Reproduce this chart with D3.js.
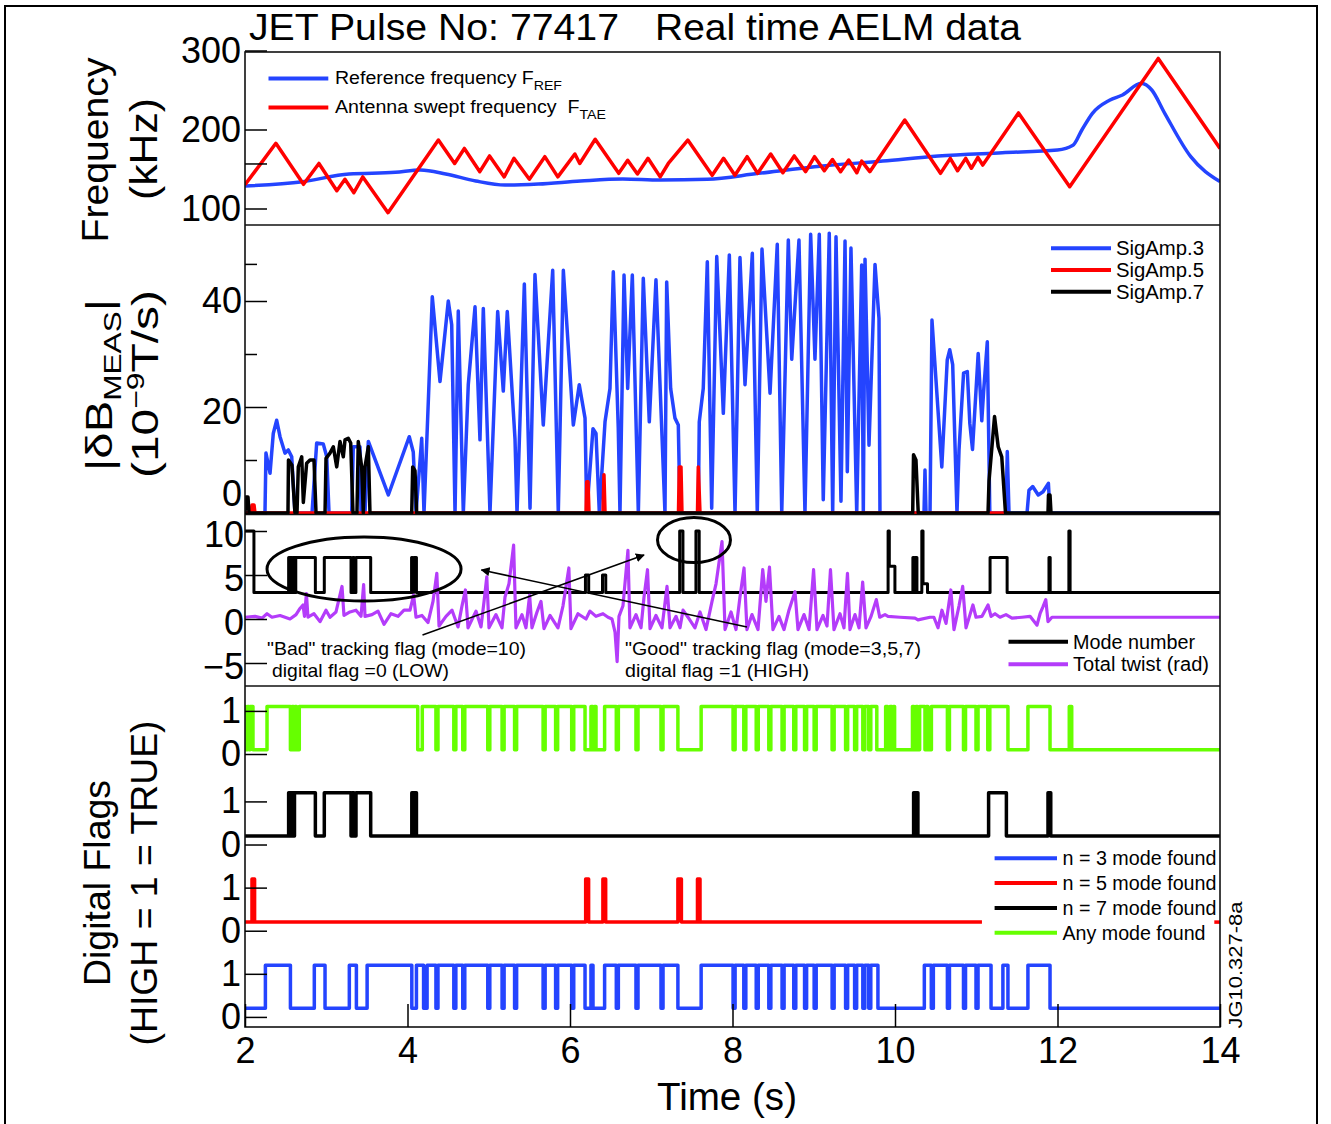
<!DOCTYPE html>
<html><head><meta charset="utf-8">
<script src="https://cdn.jsdelivr.net/npm/d3@7"></script>
<style>
body{margin:0;background:#fff;}
svg text{font-family:"Liberation Sans", Arial, Helvetica, sans-serif; fill:#000;}
</style></head><body>
<svg id="chart" width="1331" height="1124"></svg>
<script>
// ---------------- DATA ----------------
const timeTicks = [2,4,6,8,10,12,14];
const freqTicks = [100,200,300];
const freqMinorTicks = [157];
const ampTicks = [0,20,40];
const ampMinorTicks = [10,30,47];
const modeTicks = [-5,0,5,10];
const flagTickPos = [-0.2,0.8,1.8,2.8,3.8,4.8,5.9,6.9];
const flagTickLabels = ["0","1","0","1","0","1","0","1"];

// Frequency panel [time s, kHz]
const fRef = [[2.0,128.5],[2.71,134],[3.28,143.7],[3.85,145.8],[4.16,148.7],[4.47,143.7],[4.84,134.8],[5.2,129.7],[5.61,131],[6.13,134.8],[6.65,137.3],[7.11,136],[7.69,137],[8.32,144.5],[9.11,153.8],[9.85,160],[10.53,166.5],[11.32,170.6],[12.0,174],[12.19,180],[12.30,199.4],[12.43,220.5],[12.64,237],[12.80,243.7],[13.03,258.5],[13.16,250],[13.32,220.5],[13.64,165.6],[14.0,134]];
const fTAE = [[2.00,130],[2.38,182.5],[2.72,130.6],[2.91,157],[3.13,122.5],[3.23,137],[3.34,120],[3.45,140],[3.76,94.7],[4.38,186.7],[4.58,157],[4.70,176],[4.89,146.6],[5.01,166.5],[5.19,140],[5.31,163.5],[5.50,137],[5.69,165.6],[5.85,140],[6.06,169],[6.12,157],[6.31,187.6],[6.60,144.5],[6.71,161],[6.83,143.7],[6.96,163.5],[7.11,140],[7.21,157],[7.45,186.7],[7.75,142],[7.89,163.5],[8.03,142],[8.18,165.6],[8.31,144.5],[8.47,169],[8.62,145.3],[8.76,166.5],[8.90,146.6],[9.01,165.6],[9.13,147.8],[9.23,162],[9.33,146.6],[9.43,161.4],[9.53,145.3],[9.59,160],[9.69,146.6],[10.12,212],[10.56,144.5],[10.68,163.5],[10.77,147.8],[10.87,163.5],[10.94,150.9],[11.02,164.8],[11.08,155],[11.52,221],[12.15,127.6],[13.24,290],[14.0,176]];

// |dB_MEAS| panel [time s, 1e-9 T/s]
const sigAmp3 = [[2.000,0],[2.246,0],[2.258,11.3],[2.308,7.5],[2.348,15],[2.390,17.5],[2.431,14.4],[2.492,11.3],[2.533,11.9],[2.575,10.6],[2.615,0],[2.825,0],[2.882,13.2],[2.964,13],[3.006,10.6],[3.034,0],[3.313,0],[3.333,12.5],[3.415,12.5],[3.428,0],[3.477,0],[3.518,13.5],[3.764,3.4],[4.022,14.4],[4.071,11.5],[4.105,0],[4.175,14.1],[4.203,0],[4.256,21],[4.305,40.8],[4.400,24.8],[4.502,40],[4.544,35.5],[4.585,0],[4.625,38.1],[4.687,0],[4.748,24.2],[4.831,38.9],[4.892,13.8],[4.933,38.6],[5.015,0],[5.110,38],[5.179,23],[5.228,38],[5.323,14],[5.348,0],[5.438,43.2],[5.508,0.9],[5.569,45],[5.671,16.6],[5.787,45.8],[5.856,0],[5.918,45.8],[6.041,16.6],[6.114,24.2],[6.185,17.9],[6.206,0],[6.283,15.9],[6.320,15],[6.361,0],[6.431,17.2],[6.492,23.5],[6.533,45.5],[6.594,16],[6.615,0],[6.665,44.9],[6.710,23.5],[6.767,44.9],[6.841,0],[6.902,44.3],[6.976,17.2],[7.058,44],[7.169,0],[7.190,43.6],[7.239,23.5],[7.292,17.9],[7.333,16.6],[7.354,0],[7.579,0],[7.591,17.2],[7.640,23.5],[7.690,47.4],[7.744,0.9],[7.806,48.4],[7.887,18.8],[7.961,48.7],[8.031,0],[8.092,48.2],[8.154,24.2],[8.244,49],[8.305,0],[8.363,49.8],[8.462,22.6],[8.551,50.7],[8.606,0],[8.687,51.5],[8.729,29],[8.818,51.5],[8.892,0],[8.962,52.6],[9.015,29],[9.068,52.6],[9.117,2.5],[9.191,52.8],[9.233,0],[9.274,52.1],[9.335,2.2],[9.385,51.3],[9.413,7.8],[9.458,50],[9.529,0],[9.590,46.8],[9.610,0],[9.631,47.9],[9.680,12.8],[9.754,46.9],[9.803,36.7],[9.815,0],[10.357,0],[10.369,8.1],[10.382,0],[10.431,0],[10.455,36.4],[10.576,8.7],[10.643,28.9],[10.674,30.8],[10.710,28],[10.763,0],[10.788,11.9],[10.844,26.4],[10.890,26.7],[10.921,16.9],[10.954,12],[10.985,20],[11.024,30.1],[11.068,17.4],[11.091,23],[11.136,32.3],[11.167,0],[11.366,0],[11.382,11.6],[11.403,0],[11.625,0],[11.649,4.3],[11.695,5],[11.763,3.4],[11.822,4],[11.888,5.6],[11.908,0],[14.0,0]];
const sigAmp5 = [[2.0,0],[2.074,0],[2.086,1.5],[2.111,1.5],[2.123,0],[6.197,0],[6.206,5.9],[6.222,5.9],[6.234,0],[6.406,0],[6.418,7.2],[6.431,0],[7.335,0],[7.345,8.7],[7.366,8.7],[7.378,0],[7.569,0],[7.579,8.7],[7.600,0],[11.4,0]];
const sigAmp7 = [[2.000,0],[2.012,3],[2.037,3],[2.049,0],[2.529,0],[2.535,10],[2.578,9],[2.615,0],[2.640,0],[2.656,8.7],[2.698,10.6],[2.718,2],[2.759,9.4],[2.800,10],[2.849,10],[2.874,0],[2.985,0],[2.997,10.3],[3.046,11.3],[3.087,12.5],[3.129,8.7],[3.169,13.5],[3.210,10.6],[3.231,13.8],[3.271,14.1],[3.301,13.2],[3.329,0],[3.378,0],[3.394,13.5],[3.436,8.7],[3.456,0],[3.477,8.7],[3.518,12.5],[3.538,0],[4.052,0],[4.064,8.7],[4.092,8],[4.113,0],[10.218,0],[10.228,11],[10.258,10],[10.286,0],[11.145,0],[11.157,6],[11.225,18.2],[11.270,12.5],[11.314,10.6],[11.360,0],[11.883,0],[11.889,3.4],[11.908,3.4],[11.920,0],[14.0,0]];

// Mode number (step, value holds until next time)
const modeNumber = [[2.0,10],[2.11,3],[2.537,7],[2.55,3],[2.565,7],[2.58,3],[2.595,7],[2.61,3],[2.625,7],[2.866,3],[2.976,7],[3.305,3],[3.325,7],[3.345,3],[3.365,7],[3.547,3],[4.05,7],[4.062,3],[4.075,7],[4.11,3],[6.19,5],[6.23,3],[6.40,5],[6.44,3],[7.35,10],[7.39,3],[7.55,10],[7.59,3],[9.915,10],[9.93,6],[9.999,3],[10.22,7],[10.24,3],[10.25,7],[10.27,3],[10.33,10],[10.345,4],[10.40,3],[11.17,7],[11.38,3],[11.895,7],[11.91,3],[12.14,10],[12.155,3],[14.0,3]];
// Total twist (rad)
const totalTwist = [[2.000,0.2],[2.123,0.3],[2.209,0.1],[2.271,0.6],[2.332,0.2],[2.431,0.4],[2.554,0.0],[2.628,0.5],[2.677,1.2],[2.714,1.6],[2.732,0.3],[2.756,2.9],[2.775,0.2],[2.849,0.6],[2.923,-0.3],[2.997,1.0],[3.046,0.2],[3.120,0.8],[3.194,3.7],[3.218,0.4],[3.292,0.8],[3.366,1.0],[3.428,0.3],[3.460,3.9],[3.477,0.3],[3.563,0.5],[3.637,0.9],[3.711,-0.6],[3.797,0.6],[3.883,0.3],[3.957,1.0],[4.031,1.0],[4.075,2.7],[4.105,0.2],[4.178,0.4],[4.252,-0.4],[4.314,2.0],[4.361,5.2],[4.388,-0.8],[4.474,0.3],[4.548,1.0],[4.622,-0.9],[4.671,1.5],[4.713,3.3],[4.745,-1.0],[4.843,0.9],[4.905,-0.9],[4.942,2.0],[4.976,4.8],[5.003,-1.0],[5.089,0.5],[5.163,-1.0],[5.200,2.5],[5.249,4.0],[5.306,8.4],[5.335,-1.0],[5.409,0.5],[5.458,-1.0],[5.503,2.7],[5.532,-1.0],[5.594,0.8],[5.643,2.0],[5.680,-1.1],[5.754,0.4],[5.852,-1.0],[5.914,1.5],[5.986,5.8],[6.012,-1.1],[6.098,0.6],[6.197,0.0],[6.246,0.9],[6.320,0.3],[6.406,0.6],[6.468,0.2],[6.517,0.0],[6.554,-1.5],[6.580,-4.85],[6.603,0.3],[6.652,1.5],[6.713,7.8],[6.738,-1.0],[6.812,0.5],[6.874,-1.0],[6.911,2.5],[6.954,5.6],[6.985,-1.1],[7.058,0.4],[7.132,-1.0],[7.194,3.7],[7.231,-1.0],[7.305,0.3],[7.354,-1.0],[7.391,1.0],[7.452,0.2],[7.538,-1.0],[7.600,0.8],[7.674,-1.2],[7.748,2.0],[7.797,4.0],[7.871,8.8],[7.908,-1.2],[7.982,0.8],[8.043,-1.2],[8.092,2.5],[8.142,5.8],[8.178,-1.2],[8.240,0.5],[8.314,-1.2],[8.372,5.6],[8.412,2.0],[8.455,5.9],[8.498,-1.2],[8.572,0.3],[8.634,-1.2],[8.695,1.0],[8.769,3.1],[8.806,-1.2],[8.880,0.5],[8.942,-1.2],[8.998,5.6],[9.040,-1.2],[9.114,0.4],[9.163,-0.8],[9.206,5.6],[9.249,-1.2],[9.323,0.6],[9.372,-1.0],[9.415,5.2],[9.446,-1.2],[9.508,0.5],[9.557,-1.0],[9.602,4.2],[9.643,-1.0],[9.705,0.3],[9.770,2.2],[9.812,0.2],[9.877,0.5],[9.914,0.3],[10.062,0.2],[10.246,0.1],[10.283,-0.1],[10.431,0.2],[10.479,0.2],[10.529,-1.0],[10.578,1.0],[10.628,-0.5],[10.687,3.3],[10.726,-1.2],[10.788,1.5],[10.833,3.7],[10.874,-1.0],[10.923,0.5],[10.959,1.6],[10.997,0.2],[11.071,0.3],[11.145,1.6],[11.182,0.3],[11.231,0.6],[11.292,0.2],[11.366,0.5],[11.440,0.1],[11.563,0.2],[11.662,0.3],[11.748,-0.7],[11.785,0.6],[11.822,1.4],[11.856,2.2],[11.883,-0.3],[11.932,0.2],[14.0,0.2]];

// Digital flags: intervals [start, end] where flag = 1 (HIGH)
const n3High = [[2.251,2.559],[2.853,2.985],[3.284,3.371],[3.503,4.053],[4.110,4.198],[4.241,4.350],[4.375,4.570],[4.595,4.680],[4.705,4.988],[5.013,5.164],[5.189,5.318],[5.343,5.669],[5.694,5.823],[5.848,6.021],[6.046,6.185],[6.258,6.283],[6.426,6.570],[6.595,6.812],[6.837,7.120],[7.145,7.328],[7.614,8.007],[8.032,8.139],[8.164,8.292],[8.317,8.447],[8.472,8.610],[8.635,8.754],[8.779,8.887],[8.912,9.005],[9.030,9.226],[9.251,9.392],[9.417,9.503],[9.528,9.604],[9.629,9.677],[9.702,9.790],[10.361,10.447],[10.472,10.645],[10.670,10.843],[10.868,10.997],[11.022,11.182],[11.328,11.390],[11.636,11.908]];
const n5High = [[2.086,2.118],[6.193,6.229],[6.405,6.439],[7.328,7.371],[7.569,7.600]];
const n5Spans = [[2.0,11.07],[13.93,14.0]];
const n7High = [[2.537,2.548],[2.560,2.572],[2.585,2.597],[2.609,2.866],[2.976,3.305],[3.323,3.342],[3.366,3.547],[4.053,4.065],[4.078,4.110],[10.229,10.246],[10.258,10.282],[11.152,11.371],[11.883,11.917]];
const anyHigh = [[2.000,2.012],[2.031,2.049],[2.062,2.098],[2.271,2.559],[2.578,2.597],[2.615,2.634],[2.668,4.126],[4.182,4.350],[4.375,4.570],[4.595,4.680],[4.705,4.988],[5.013,5.164],[5.189,5.318],[5.343,5.669],[5.694,5.823],[5.848,6.021],[6.046,6.185],[6.258,6.283],[6.302,6.320],[6.426,6.570],[6.595,6.812],[6.837,7.120],[7.145,7.328],[7.614,8.007],[8.032,8.139],[8.164,8.292],[8.317,8.447],[8.472,8.610],[8.635,8.754],[8.779,8.887],[8.912,9.005],[9.030,9.226],[9.251,9.392],[9.417,9.503],[9.528,9.604],[9.629,9.677],[9.702,9.776],[9.885,9.908],[9.938,9.963],[9.982,9.995],[10.215,10.234],[10.258,10.277],[10.303,10.369],[10.387,10.406],[10.448,10.645],[10.670,10.843],[10.868,10.997],[11.022,11.142],[11.167,11.390],[11.636,11.908],[12.145,12.175]];

// ---------------- DRAW ----------------
const svg = d3.select("#chart");
const C = {blue:"#2444ff", red:"#ff0000", black:"#000000", green:"#66ff00", purple:"#b43cfa"};
const L = 245, R = 1220;
const P = {fTop:52, fBot:225, aTop:225, aBot:514.5, mTop:514.5, mBot:686, dTop:686, dBot:1027};

const x = d3.scaleLinear().domain([2,14]).range([L,R]);
const yF = d3.scaleLinear().domain([100,300]).range([208.5,50.5]);
const yA = d3.scaleLinear().domain([0,40]).range([513,301]);
const yM = d3.scaleLinear().domain([0,10]).range([619,531]);
const yD = d3.scaleLinear().domain([0,1]).range([1008.3,965.2]);

svg.append("rect").attr("x",5).attr("y",6).attr("width",1312).attr("height",1140)
  .attr("fill","none").attr("stroke","#000").attr("stroke-width",2);

const defs = svg.append("defs");
function clip(id,y0,y1){defs.append("clipPath").attr("id",id).append("rect").attr("x",L).attr("y",y0).attr("width",R-L).attr("height",y1-y0);}
clip("cF",P.fTop,P.fBot); clip("cA",P.aTop,P.aBot+1); clip("cM",P.mTop,P.mBot); clip("cD",P.dTop,P.dBot);
defs.append("marker").attr("id","arr").attr("viewBox","0 0 10 10").attr("refX",9).attr("refY",5)
  .attr("markerWidth",9).attr("markerHeight",9).attr("markerUnits","userSpaceOnUse").attr("orient","auto")
  .append("path").attr("d","M0,0 L10,5 L0,10 z").attr("fill","#000");

function drawLine(g, data, yS, color, w, curve){
  g.append("path").datum(data).attr("fill","none").attr("stroke",color).attr("stroke-width",w)
   .attr("stroke-linejoin","round").attr("stroke-linecap","butt")
   .attr("d", d3.line().x(d=>x(d[0])).y(d=>yS(d[1])).curve(curve||d3.curveLinear));
}

// Frequency
const gF = svg.append("g").attr("clip-path","url(#cF)");
drawLine(gF, fRef, yF, C.blue, 3.5, d3.curveMonotoneX);
drawLine(gF, fTAE, yF, C.red, 3.5);

// Amplitudes
const gA = svg.append("g").attr("clip-path","url(#cA)");
drawLine(gA, sigAmp3, yA, C.blue, 3.5);
drawLine(gA, sigAmp5, yA, C.red, 3.5);
drawLine(gA, sigAmp7, yA, C.black, 3.5);

// Mode & twist
const gM = svg.append("g").attr("clip-path","url(#cM)");
drawLine(gM, modeNumber, yM, C.black, 3, d3.curveStepAfter);
drawLine(gM, totalTwist, yM, C.purple, 3.2);

// Digital flags
function stepPts(intervals, t0, t1, off){
  const p=[[t0,off]];
  intervals.forEach(([s,e])=>{ if(s>=t0 && e<=t1) p.push([s,off],[s,off+1],[e,off+1],[e,off]); });
  p.push([t1,off]); return p;
}
const gD = svg.append("g").attr("clip-path","url(#cD)");
drawLine(gD, stepPts(anyHigh,2,14,6), yD, C.green, 3.5);
drawLine(gD, stepPts(n7High,2,14,4), yD, C.black, 3.5);
n5Spans.forEach(([a,b])=>drawLine(gD, stepPts(n5High,a,b,2), yD, C.red, 3.5));
drawLine(gD, stepPts(n3High,2,14,0), yD, C.blue, 3.5);

// Frame
const frame = svg.append("g").attr("stroke","#111").attr("stroke-width",1.6).attr("fill","none");
frame.append("rect").attr("x",L).attr("y",P.fTop).attr("width",R-L).attr("height",P.dBot-P.fTop);
[P.fBot,P.aBot,P.dTop].forEach(yy=>frame.append("line").attr("x1",L).attr("x2",R).attr("y1",yy).attr("y2",yy));

// Axes
function styleAxis(g,size){
  g.select(".domain").remove();
  g.selectAll(".tick line").attr("stroke","#000").attr("stroke-width",1.5);
  g.selectAll(".tick text").attr("font-size",size).attr("fill","#000");
}
let g;
g = svg.append("g").attr("transform",`translate(${L},0)`).call(d3.axisLeft(yF).tickValues(freqTicks).tickSizeInner(-22).tickSizeOuter(0).tickPadding(4));
styleAxis(g,36);
g = svg.append("g").attr("transform",`translate(${L},0)`).call(d3.axisLeft(yF).tickValues(freqMinorTicks).tickSizeInner(-22).tickSizeOuter(0).tickFormat(""));
styleAxis(g,36);
g = svg.append("g").attr("transform",`translate(${L},0)`).call(d3.axisLeft(yA).tickValues(ampTicks).tickSizeInner(-22).tickSizeOuter(0).tickPadding(3));
styleAxis(g,36);
g.selectAll(".tick").filter(d=>d===0).select("text").attr("dy","-8px");
g.selectAll(".tick").filter(d=>d===20).select("text").attr("dy","0.45em");
g = svg.append("g").attr("transform",`translate(${L},0)`).call(d3.axisLeft(yA).tickValues(ampMinorTicks).tickSizeInner(-12).tickSizeOuter(0).tickFormat(""));
styleAxis(g,36);
g = svg.append("g").attr("transform",`translate(${L},0)`).call(d3.axisLeft(yM).tickValues(modeTicks).tickSizeInner(-22).tickSizeOuter(0).tickPadding(1));
styleAxis(g,36);
g.selectAll(".tick text").attr("dy","0.42em");
g = svg.append("g").attr("transform",`translate(${L},0)`).call(d3.axisLeft(yD).tickValues(flagTickPos).tickSizeInner(-22).tickSizeOuter(0).tickPadding(4).tickFormat((d,i)=>flagTickLabels[i]));
styleAxis(g,36);
g = svg.append("g").attr("transform",`translate(0,${P.dBot})`).call(d3.axisBottom(x).tickValues(timeTicks).tickSizeInner(-23).tickSizeOuter(0).tickPadding(10));
styleAxis(g,36);

// Titles & labels
function txt(xp,yp,s,size,opts={}){
  const t = svg.append("text").attr("x",xp).attr("y",yp).attr("font-size",size).text(s);
  if(opts.anchor) t.attr("text-anchor",opts.anchor);
  if(opts.len) t.attr("textLength",opts.len).attr("lengthAdjust","spacingAndGlyphs");
  if(opts.rot) t.attr("transform",`rotate(-90,${xp},${yp})`);
  return t;
}
txt(249,40,"JET Pulse No: 77417",36,{len:370});
txt(655,40,"Real time AELM data",36,{len:366});
txt(727,1110,"Time (s)",38,{anchor:"middle",len:140});

txt(108,150,"Frequency",36,{anchor:"middle",len:185,rot:true});
txt(157,149,"(kHz)",38,{anchor:"middle",len:102,rot:true});

let t1 = txt(112,385,"",36,{anchor:"middle",len:172,rot:true});
t1.append("tspan").text("|δB");
t1.append("tspan").attr("font-size",24).attr("dy",9).text("MEAS");
t1.append("tspan").attr("dy",-9).text("|");
let t2 = txt(158,384,"",36,{anchor:"middle",len:188,rot:true});
t2.append("tspan").text("(10");
t2.append("tspan").attr("font-size",24).attr("dy",-14).text("−9");
t2.append("tspan").attr("dy",14).text("T/s)");

txt(110,883,"Digital Flags",36,{anchor:"middle",len:206,rot:true});
txt(157,883,"(HIGH = 1 = TRUE)",36,{anchor:"middle",len:325,rot:true});

txt(1242,965,"JG10.327-8a",18,{anchor:"middle",len:127,rot:true});

// Legends
function legLine(x1,x2,yy,color){svg.append("line").attr("x1",x1).attr("x2",x2).attr("y1",yy).attr("y2",yy).attr("stroke",color).attr("stroke-width",4);}
legLine(268.5,328.3,78.5,C.blue);
legLine(268.5,328.3,107.5,C.red);
let lt = txt(335,84,"",18,{len:227}); lt.append("tspan").text("Reference frequency F"); lt.append("tspan").attr("font-size",13).attr("dy",6).text("REF");
lt = txt(335,113,"",18,{len:271}); lt.attr("style","white-space:pre"); lt.append("tspan").text("Antenna swept frequency  F"); lt.append("tspan").attr("font-size",13).attr("dy",6).text("TAE");

[["SigAmp.3",C.blue],["SigAmp.5",C.red],["SigAmp.7",C.black]].forEach((d,i)=>{
  const yy = 248.3 + i*21.7; legLine(1051,1111,yy,d[1]); txt(1116,yy+7,d[0],20,{len:88});
});
[["Mode number",C.black,122],["Total twist (rad)",C.purple,136]].forEach((d,i)=>{
  const yy = 641.7 + i*22.6; legLine(1008.5,1068,yy,d[1]); txt(1073,yy+7,d[0],20,{len:d[2]});
});
[["n = 3 mode found",C.blue,154],["n = 5 mode found",C.red,154],["n = 7 mode found",C.black,154],["Any mode found",C.green,143]].forEach((d,i)=>{
  const yy = 858.3 + i*24.8; legLine(994.6,1057,yy,d[1]); txt(1062.5,yy+7,d[0],20,{len:d[2]});
});

// Annotations (in data units of the mode panel)
const ann = svg.append("g");
ann.append("ellipse").attr("cx",x(3.465)).attr("cy",yM(5.68)).attr("rx",x(3.465+1.194)-x(3.465)).attr("ry",yM(0)-yM(3.64))
  .attr("fill","none").attr("stroke","#000").attr("stroke-width",3);
ann.append("ellipse").attr("cx",x(7.526)).attr("cy",yM(8.98)).attr("rx",x(7.526+0.449)-x(7.526)).attr("ry",yM(0)-yM(2.56))
  .attr("fill","none").attr("stroke","#000").attr("stroke-width",3);
ann.append("line").attr("x1",x(4.185)).attr("y1",yM(-1.82)).attr("x2",x(6.911)).attr("y2",yM(7.27))
  .attr("stroke","#000").attr("stroke-width",1.5).attr("marker-end","url(#arr)");
ann.append("line").attr("x1",x(8.178)).attr("y1",yM(-0.91)).attr("x2",x(4.910)).attr("y2",yM(5.57))
  .attr("stroke","#000").attr("stroke-width",1.5).attr("marker-end","url(#arr)");
txt(x(2.271),yM(-4.09),"\"Bad\" tracking flag (mode=10)",19,{len:259});
txt(x(2.333),yM(-6.59),"digital flag =0 (LOW)",19,{len:177});
txt(x(6.677),yM(-4.09),"\"Good\" tracking flag (mode=3,5,7)",19,{len:296});
txt(x(6.677),yM(-6.59),"digital flag =1 (HIGH)",19,{len:184});
</script>
</body></html>
